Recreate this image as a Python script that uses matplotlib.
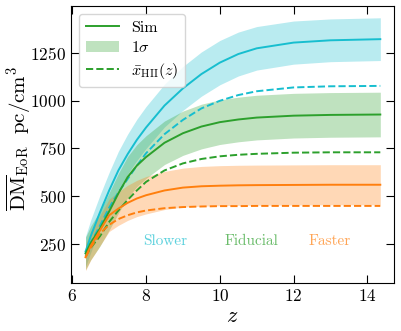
import numpy as np
import matplotlib
matplotlib.use('Agg')
import matplotlib.pyplot as plt

plt.rcParams['font.family'] = 'cmr10'
plt.rcParams['mathtext.fontset'] = 'cm'
plt.rcParams['axes.formatter.use_mathtext'] = True

# redshift samples
z = [6.36, 6.5, 6.75, 7.0, 7.25, 7.5, 7.75, 8.0, 8.5, 9.0, 9.5, 10.0, 10.5, 11.0, 12.0, 13.0, 14.35]

# simulated mean DM (solid) and 1 sigma spread
slower_sim = [210, 290, 415, 530, 635, 720, 795, 860, 975, 1065, 1140, 1200, 1245, 1275, 1305, 1317, 1323]
slower_sig = [80, 85, 90, 95, 100, 105, 108, 110, 112, 115, 116, 116, 115, 114, 113, 112, 112]
fiducial_sim = [200, 255, 330, 420, 515, 600, 660, 705, 780, 830, 865, 888, 902, 912, 922, 926, 928]
fiducial_sig = [85, 88, 92, 98, 104, 108, 110, 112, 114, 116, 117, 117, 117, 117, 117, 117, 117]
faster_sim = [180, 240, 320, 400, 435, 465, 488, 505, 530, 545, 552, 555, 557, 558, 559, 560, 560]
faster_sig = [70, 75, 80, 85, 88, 92, 95, 98, 100, 102, 104, 105, 105, 105, 105, 105, 105]

# mean ionized fraction model (dashed)
slower_xhii = [195, 255, 345, 440, 520, 590, 660, 725, 825, 900, 960, 1000, 1030, 1050, 1070, 1076, 1078]
fiducial_xhii = [185, 230, 290, 365, 425, 480, 530, 575, 635, 672, 695, 709, 717, 722, 728, 730, 730]
faster_xhii = [180, 230, 305, 350, 380, 400, 415, 425, 437, 443, 446, 448, 448, 449, 449, 449, 449]

labels = ['Slower', 'Fiducial', 'Faster']
label_z = [8.52, 10.87, 12.98]
colors = ['#17becf', '#2ca02c', '#ff7f0e']

fig = plt.figure(figsize=(4.02, 3.31), dpi=100)
ax = fig.add_axes([0.177, 0.145, 0.803, 0.837])

series = [(slower_sim, slower_sig, slower_xhii),
          (fiducial_sim, fiducial_sig, fiducial_xhii),
          (faster_sim, faster_sig, faster_xhii)]

zz = np.array(z)
for (sim, sig, xhii), c, lab, lz in zip(series, colors, labels, label_z):
    sim = np.array(sim)
    sig = np.array(sig)
    ax.plot(zz, sim, color=c, lw=1.4)
    ax.fill_between(zz, sim - sig, sim + sig, color=c, alpha=0.3, lw=0)
    ax.plot(zz, xhii, color=c, lw=1.4, ls='--')
    ax.text(lz, 262, lab, color=c, alpha=0.7, fontsize=11, ha='center', va='center')

# legend handles in fiducial colour
h1, = ax.plot([], [], color=colors[1], lw=1.4, label='Sim')
h2 = ax.fill_between([], [], [], color=colors[1], alpha=0.3, lw=0, label=r'$1\sigma$')
h3, = ax.plot([], [], color=colors[1], lw=1.4, ls='--', label=r'$\bar{x}_{\rm HII}(z)$')
ax.legend(handles=[h1, h2, h3], loc='upper left', fontsize=11.5, framealpha=0.8,
          handlelength=2.1, handletextpad=0.75, labelspacing=0.35)

ax.set_xlim(5.97, 14.72)
ax.set_ylim(45, 1497)
ax.set_xticks([6, 8, 10, 12, 14])
ax.set_yticks([250, 500, 750, 1000, 1250])
ax.tick_params(direction='in', top=True, right=True, length=6, labelsize=12.5)
ax.set_xlabel(r'$z$', fontsize=16, labelpad=2)
ax.set_ylabel(r'$\overline{\rm DM}_{\rm EoR}\ \ {\rm pc/cm^3}$', fontsize=15)
ax.yaxis.set_label_coords(-0.118, 0.52)

fig.savefig('out.png', dpi=100)
